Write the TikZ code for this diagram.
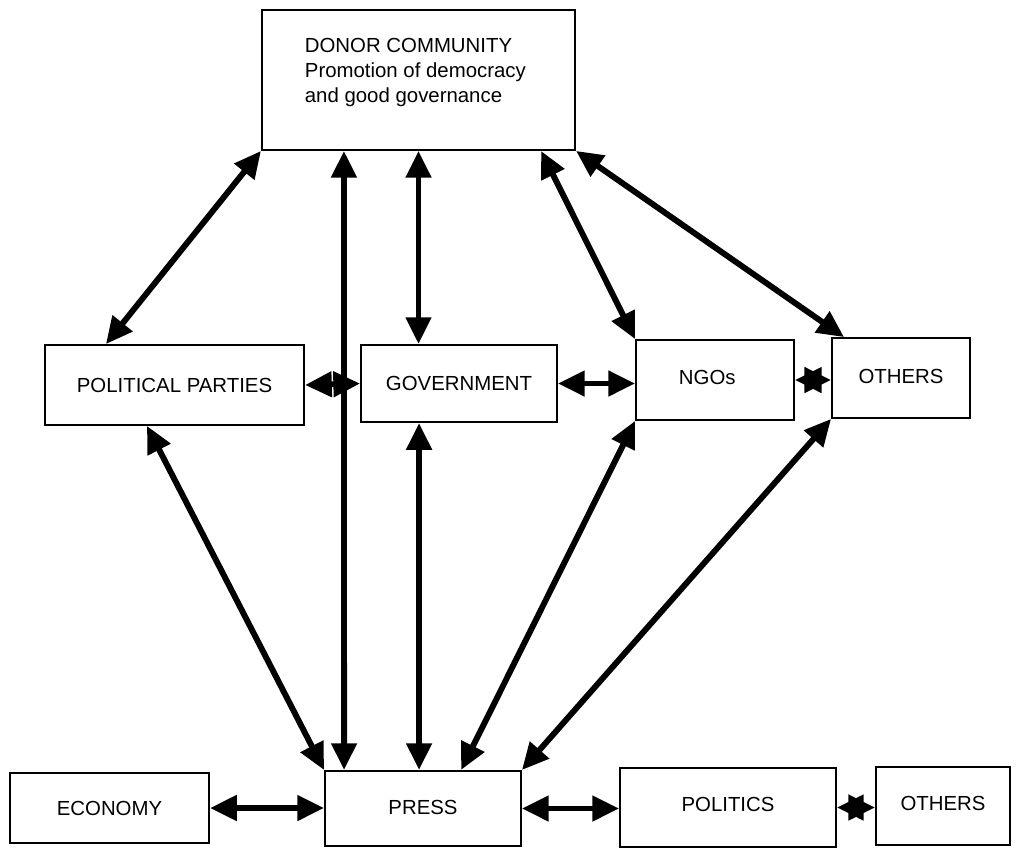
\documentclass[tikz,border=0pt]{standalone}
\usepackage{fontspec}
\setmainfont{Liberation Sans}
\usetikzlibrary{arrows.meta,calc}
\begin{document}
\begin{tikzpicture}[x=0.025cm,y=-0.025cm,<->,>={Triangle[length=19pt,width=17.5pt]},line width=4.2pt,
  box/.style={draw,rectangle,line width=1.3pt,font=\fontsize{14.5}{17.7}\selectfont}]
\useasboundingbox (0,0) rectangle (1024,850);
\node[box,minimum width=7.83cm,minimum height=3.5cm] (DONOR) at (418.5,80) {};
\node[anchor=north west,inner sep=0pt,align=left,font=\fontsize{14.5}{17.7}\selectfont] (DONORTXT) at ($(DONOR.north west)+(41,26)$) {DONOR COMMUNITY\\Promotion of democracy\\and good governance};
\node[box,minimum width=6.48cm,minimum height=2cm] (PP) at (174.5,385) {POLITICAL PARTIES};
\node[box,minimum width=4.9cm,minimum height=1.93cm] (GOV) at (459,383.5) {GOVERNMENT};
\node[box,minimum width=3.95cm,minimum height=2cm] (NGO) at (715,380) {\raisebox{4pt}{NGOs}\hspace*{11pt}};
\node[box,minimum width=3.45cm,minimum height=2cm] (OTH1) at (901,378) {\raisebox{2pt}{OTHERS}};
\node[box,minimum width=4.98cm,minimum height=1.75cm] (ECO) at (109.5,808) {ECONOMY};
\node[box,minimum width=4.9cm,minimum height=1.88cm] (PRESS) at (423,808.5) {\raisebox{2pt}{PRESS}};
\node[box,minimum width=5.4cm,minimum height=1.98cm] (POL) at (728,807.5) {\raisebox{4pt}{POLITICS}};
\node[box,minimum width=3.35cm,minimum height=1.95cm] (OTH2) at (943,806) {\raisebox{4pt}{OTHERS}};
% donor links
\draw (DONOR.south west) -- ($(PP.north west)+(62,0)$);
\draw ($(DONOR.south west)+(83,0)$) -- ($(PRESS.north west)+(20,0)$);
\draw (DONOR.south) -- (DONOR.south |- GOV.north);
\draw ($(DONOR.south east)+(-35,0)$) -- (NGO.north west);
\draw (DONOR.south east) -- ($(OTH1.north west)+(13,0)$);
% middle row
\draw (PP.east) -- (GOV.west);
\draw (GOV.east) -- (GOV.east -| NGO.west);
\draw (NGO.east) -- (NGO.east -| OTH1.west);
% press links
\draw ($(PP.south west)+(103,0)$) -- (PRESS.north west);
\draw ($(GOV.south west)+(59,0)$) -- ($(PRESS.north west)+(95,0)$);
\draw (NGO.south west) -- ($(PRESS.north west)+(137,0)$);
\draw (OTH1.south west) -- (PRESS.north east);
% bottom row
\draw (ECO.east) -- (ECO.east -| PRESS.west);
\draw (PRESS.east) -- (PRESS.east -| POL.west);
\draw (POL.east) -- (POL.east -| OTH2.west);
\end{tikzpicture}
\end{document}
